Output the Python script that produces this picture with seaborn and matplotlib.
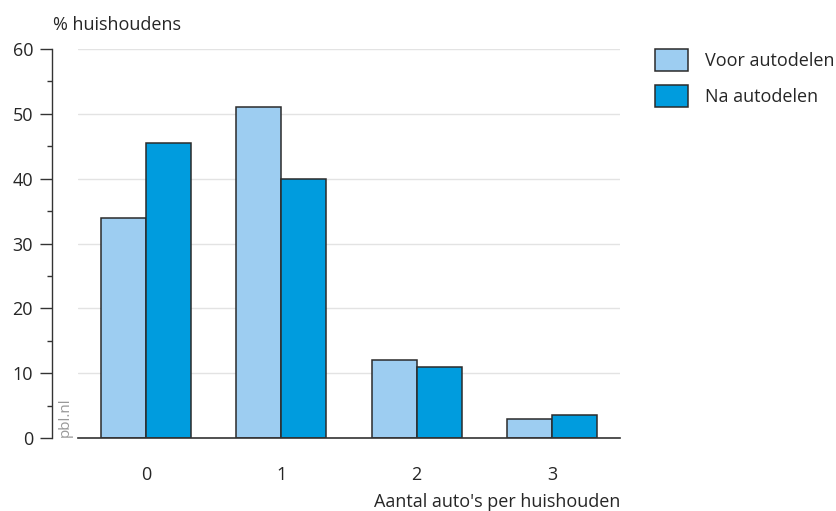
import matplotlib
matplotlib.use("Agg")
import matplotlib.pyplot as plt
import seaborn as sns
import pandas as pd
from matplotlib.patches import Patch

categories = ["0", "1", "2", "3"]
voor = [34, 51, 12.1, 3.0]
na = [45.5, 40, 10.9, 3.6]
series_names = ["Voor autodelen", "Na autodelen"]
colors = ["#9dcdf1", "#009cde"]

df = pd.DataFrame({
    "cat": categories * 2,
    "val": voor + na,
    "serie": [series_names[0]] * 4 + [series_names[1]] * 4,
})

sns.set_style("white")
plt.rcParams['font.family'] = ['Open Sans', 'DejaVu Sans']

PX = 72 / 100  # points per pixel

fig = plt.figure(figsize=(8.36, 5.11), dpi=100)
ax = fig.add_axes([78/836, 1-438/511, (620-78)/836, (438-49)/511])

sns.barplot(data=df, x="cat", y="val", hue="serie", palette=colors,
            width=0.664, edgecolor="#2b2b2b", linewidth=1.1, ax=ax,
            legend=False, saturation=1)

ax.set_xlim(-0.5, 3.5)
ax.set_ylim(0, 60)
ax.set_yticks(range(0, 61, 10))
ax.set_yticks(range(5, 60, 10), minor=True)
ax.yaxis.grid(True, color="#e3e3e3", linewidth=1)
ax.set_axisbelow(True)

for s in ["top", "right"]:
    ax.spines[s].set_visible(False)
ax.spines["left"].set_position(("outward", 26 * PX))
ax.spines["left"].set_color("#333333")
ax.spines["left"].set_linewidth(1)
ax.spines["bottom"].set_color("#333333")
ax.spines["bottom"].set_linewidth(1.2)

ax.tick_params(axis="y", which="major", length=12 * PX, width=1, color="#333333",
               labelsize=13, pad=7 * PX, left=True)
ax.tick_params(axis="y", which="minor", length=5 * PX, width=1, color="#333333", left=True)
ax.tick_params(axis="x", length=0, labelsize=13, pad=28 * PX)

ax.set_xlabel("")
ax.set_ylabel("")

fig.text(53/836, 1-25/511, "% huishoudens", fontsize=13, ha="left", va="center")
fig.text(620/836, 1-502/511, "Aantal auto's per huishouden", fontsize=13,
         ha="right", va="center")
fig.text(65/836, 1-437/511, "pbl.nl", fontsize=11, color="#999999",
         rotation=90, ha="center", va="bottom")

handles = [Patch(facecolor=c, edgecolor="#2b2b2b", linewidth=1.1) for c in colors]
fig.legend(handles, series_names, loc="upper left",
           bbox_to_anchor=(655/836, 1-49/511), frameon=False, fontsize=13,
           handlelength=33 * PX / 13, handleheight=27 * PX / 13,
           handletextpad=17 * PX / 13, labelspacing=0.8,
           borderpad=0, borderaxespad=0)

fig.savefig("out.png", dpi=100)
